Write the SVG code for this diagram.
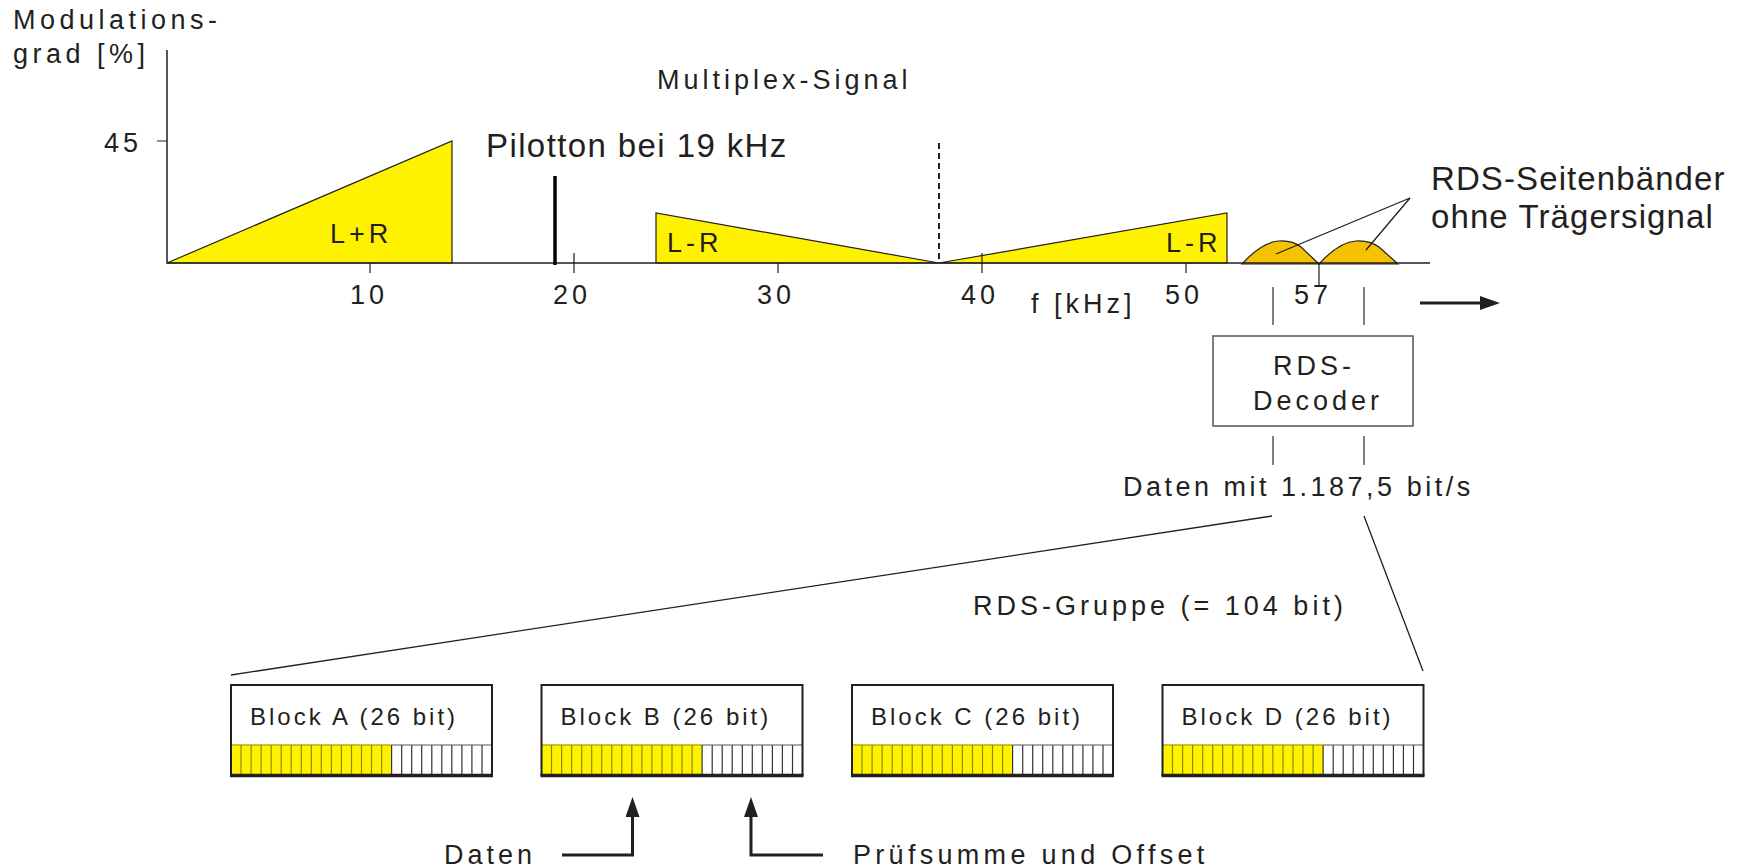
<svg xmlns="http://www.w3.org/2000/svg" xmlns:xlink="http://www.w3.org/1999/xlink" width="1744" height="868" viewBox="0 0 1744 868">
<style>
.t{font-family:"Liberation Sans",Arial,sans-serif;font-size:27px;letter-spacing:4px;fill:#231F20}
.b{font-size:24px;letter-spacing:3px}
.n{font-family:"Liberation Sans",Arial,sans-serif;font-size:33px;letter-spacing:1.1px;fill:#231F20}
.ax{stroke:#231F20;stroke-width:1.5;fill:none}
.tk{stroke:#231F20;stroke-width:1.2;fill:none}
.yel{fill:#FFF200;stroke:#231F20;stroke-width:1.2}
.rds{fill:#F6C200;stroke:#231F20;stroke-width:1.2}
.gl{stroke:#555;stroke-width:1.5;fill:none}
.ln{stroke:#231F20;stroke-width:1.3;fill:none}
.arr{stroke:#231F20;stroke-width:3;fill:none;marker-end:url(#ah)}
.blk{fill:none;stroke:#231F20;stroke-width:2}
.bot{stroke:#231F20;stroke-width:3.5}
</style>
<defs>
<marker id="ah" viewBox="0 0 20 14" markerWidth="20" markerHeight="14" refX="4" refY="7" orient="auto" markerUnits="userSpaceOnUse">
<path d="M0,0L20,7L0,14Z" fill="#231F20"/>
</marker>
<g id="bits">
<rect x="0" y="0" width="160.6" height="30" fill="#FFF200"/>
<path d="M0,0H160.6" stroke="#B8B000" stroke-width="1.5"/>
<path d="M10,0V30M20.1,0V30M30.1,0V30M40.2,0V30M50.2,0V30M60.2,0V30M70.3,0V30M80.3,0V30M90.3,0V30M100.4,0V30M110.4,0V30M120.5,0V30M130.5,0V30M140.5,0V30M150.6,0V30" stroke="#8F8A00" stroke-width="1.2"/>
<path d="M160.6,0V30M170.7,0V30M180.7,0V30M190.7,0V30M200.8,0V30M210.8,0V30M220.8,0V30M230.9,0V30M240.9,0V30M251,0V30" stroke="#333" stroke-width="1.2"/>
<path d="M160.6,0H261" stroke="#555" stroke-width="1"/>
</g>
</defs>
<rect width="1744" height="868" fill="#fff"/>

<g id="spectrum">
<polygon class="yel" points="167,263 452,141 452,263"/>
<polygon class="yel" points="656,263 656,213 939,263"/>
<polygon class="yel" points="939,263 1227,213 1227,263"/>
<path class="rds" d="M1242,264Q1262,242 1279,241Q1292,240 1301,247L1319,264Z"/>
<path class="rds" d="M1319,264Q1339,242 1356,241Q1369,240 1379,247L1398,264Z"/>
<path class="ax" d="M167,50V263H1430"/>
<path class="tk" d="M157,141H167M370,263V273M574,253V273M778,263V273M982,253V273M1186,263V273M1319,264V285"/>
<path d="M939,143V263" stroke="#231F20" stroke-width="2" stroke-dasharray="6 4"/>
<path d="M555,176V265" stroke="#000" stroke-width="3.5"/>
<text class="t" x="13" y="29" style="letter-spacing:4.5px">Modulations-</text>
<text class="t" x="13" y="63" style="letter-spacing:4.5px">grad [%]</text>
<text class="t" x="104" y="152">45</text>
<text class="t" x="657" y="89">Multiplex-Signal</text>
<text class="n" x="486" y="157" style="letter-spacing:1.4px">Pilotton bei 19 kHz</text>
<text class="t" x="330" y="243">L+R</text>
<text class="t" x="667" y="252">L-R</text>
<text class="t" x="1166" y="252">L-R</text>
<text class="t" x="350" y="304">10</text>
<text class="t" x="553" y="304">20</text>
<text class="t" x="757" y="304">30</text>
<text class="t" x="961" y="304">40</text>
<text class="t" x="1165" y="304">50</text>
<text class="t" x="1294" y="304">57</text>
<text class="t" x="1031" y="313">f [kHz]</text>
<text class="n" x="1431" y="190">RDS-Seitenbänder</text>
<text class="n" x="1431" y="228">ohne Trägersignal</text>
</g>

<g id="decoder">
<rect x="1213" y="336" width="200" height="90" fill="#fff" stroke="#555" stroke-width="1.5"/>
<text class="t" x="1273" y="375">RDS-</text>
<text class="t" x="1253" y="410">Decoder</text>
</g>

<g id="datarate">
<text class="t" x="1123" y="496" style="letter-spacing:3.5px">Daten mit 1.187,5 bit/s</text>
</g>

<g id="group">
<text class="t" x="973" y="615">RDS-Gruppe (= 104 bit)</text>
</g>

<g id="blockA">
<use xlink:href="#bits" x="231" y="745"/>
<rect class="blk" x="231" y="685" width="261" height="90"/>
<path class="bot" d="M230,775.5H493"/>
<text class="t b" x="250" y="725">Block A (26 bit)</text>
</g>
<g id="blockB">
<use xlink:href="#bits" x="541.5" y="745"/>
<rect class="blk" x="541.5" y="685" width="261" height="90"/>
<path class="bot" d="M540.5,775.5H803.5"/>
<text class="t b" x="560.5" y="725">Block B (26 bit)</text>
</g>
<g id="blockC">
<use xlink:href="#bits" x="852" y="745"/>
<rect class="blk" x="852" y="685" width="261" height="90"/>
<path class="bot" d="M851,775.5H1114"/>
<text class="t b" x="871" y="725">Block C (26 bit)</text>
</g>
<g id="blockD">
<use xlink:href="#bits" x="1162.5" y="745"/>
<rect class="blk" x="1162.5" y="685" width="261" height="90"/>
<path class="bot" d="M1161.5,775.5H1424.5"/>
<text class="t b" x="1181.5" y="725">Block D (26 bit)</text>
</g>

<g id="labelDaten">
<text class="t" x="444" y="864">Daten</text>
</g>
<g id="labelPruef">
<text class="t" x="853" y="864" style="letter-spacing:4.3px">Prüfsumme und Offset</text>
</g>

<g id="connectors">
<path class="ln" d="M1276,254L1410,198L1366,250"/>
<path class="gl" d="M1273,287V325M1364,287V325M1273,436V465M1364,436V465"/>
<path class="ln" d="M1272,516L231,675M1364,516L1423,671"/>
<path class="arr" d="M1420,303H1484"/>
<path class="arr" d="M562,855H632.5V813"/>
<path class="arr" d="M823,855H751V813"/>
</g>
</svg>
